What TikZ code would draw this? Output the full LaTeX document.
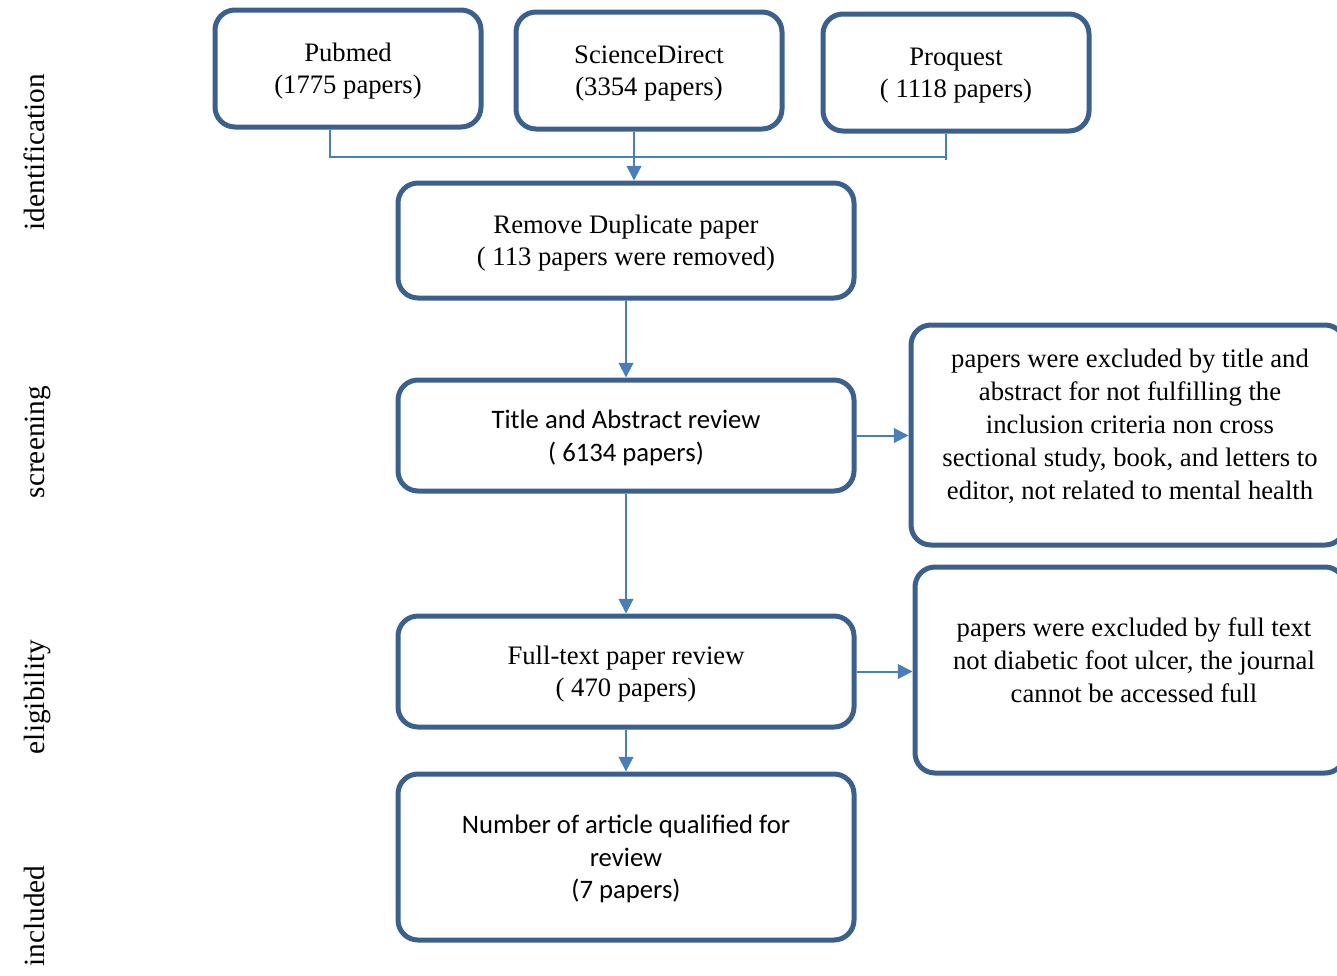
\documentclass[tikz,border=0pt]{standalone}
\usepackage{fontspec}
\setmainfont{Liberation Serif}
\newfontfamily\calfont{Carlito}
\usetikzlibrary{arrows.meta}
\definecolor{boxc}{RGB}{60,96,142}
\definecolor{arrc}{RGB}{74,126,187}
\begin{document}
\begin{tikzpicture}[x=0.75pt,y=-0.75pt,
  box/.style={draw=boxc, line width=3.75pt, rounded corners=15pt, align=center, inner sep=0pt, text depth=0pt, font=\fontsize{20}{24.2}\selectfont},
  cal/.style={font=\calfont\fontsize{20}{24.4}\selectfont},
  txt/.style={align=center, inner sep=0pt, font=\fontsize{20}{24.8}\selectfont},
  arr/.style={draw=arrc, line width=1.5pt, -{Triangle[length=11pt,width=11pt]}},
  conn/.style={draw=arrc, line width=1.2pt},
  stage/.style={rotate=90, anchor=base, inner sep=0pt, font=\fontsize{22}{26}\selectfont}]
\clip (0,0) rectangle (1337,975);
% stage labels
\node[stage] (s1) at (44,152) {identification};
\node[stage] (s2) at (44,442) {screening};
\node[stage] (s3) at (44,697) {eligibility};
\node[stage] (s4) at (44,916) {included};
% sources
\node[box, minimum width=199.5pt, minimum height=87.75pt] (pub) at (348,68.5) {Pubmed\\(1775 papers)};
\node[box, minimum width=199.5pt, minimum height=87.75pt] (sd) at (649,70.5) {ScienceDirect\\(3354 papers)};
\node[box, minimum width=199.5pt, minimum height=87.75pt] (pq) at (956,72.5) {Proquest\\( 1118 papers)};
% main column
\node[box, minimum width=342pt, minimum height=86.25pt] (rem) at (626,240.5) {Remove Duplicate paper\\( 113 papers were removed)};
\node[box, cal, minimum width=342pt, minimum height=83.25pt] (tar) at (626,435.5) {Title and Abstract review\\( 6134 papers)};
\node[box, minimum width=342pt, minimum height=83.25pt] (ft) at (626,671.5) {Full-text paper review\\( 470 papers)};
\node[box, cal, minimum width=342pt, minimum height=124.5pt] (num) at (626,857) {Number of article qualified for\\review\\(7 papers)};
% exclusion boxes
\node[box, minimum width=325.5pt, minimum height=165pt] (ex1) at (1128,435) {};
\node[txt] (ex1t) at (1130,426) {papers were excluded by title and\\abstract for not fulfilling the\\inclusion criteria non cross\\sectional study, book, and letters to\\editor, not related to mental health};
\node[box, minimum width=322.5pt, minimum height=154.5pt] (ex2) at (1130,670) {};
\node[txt] (ex2t) at (1134,660) {papers were excluded by full text\\not diabetic foot ulcer, the journal\\cannot be accessed full};
% connectors
\coordinate (jl) at (330,157);
\coordinate (jr) at (946,157);
\coordinate (jre) at (946,160);
\coordinate (jm) at (634,157);
\draw[conn] (pub.south -| jl) -- (jl) -- (jr) -- (jre);
\draw[conn] (pq.south -| jr) -- (jr);
\draw[arr] (sd.south -| jm) -- (rem.north -| jm);
\draw[arr] (rem.south) -- (tar.north);
\draw[arr] (tar.east) -- (ex1.west |- tar.east);
\draw[arr] (tar.south) -- (ft.north);
\draw[arr] (ft.east) -- (ex2.west |- ft.east);
\draw[arr] (ft.south) -- (num.north);
\end{tikzpicture}
\end{document}
